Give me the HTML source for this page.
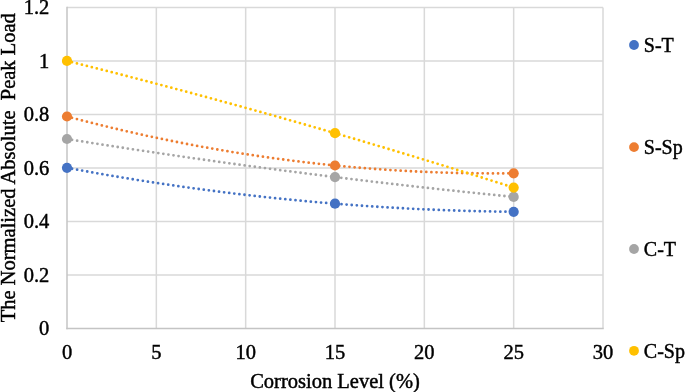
<!DOCTYPE html><html><head><meta charset="utf-8"><style>html,body{margin:0;padding:0;background:#fff;overflow:hidden;}svg{display:block;will-change:transform;}text{font-family:"Liberation Serif",serif;fill:#000;stroke:#000;stroke-width:0.45px;}</style></head><body>
<svg width="685" height="392" viewBox="0 0 685 392">
<rect width="685" height="392" fill="#fff"/>
<line x1="67.0" y1="274.91" x2="603.0" y2="274.91" stroke="#d9d9d9" stroke-width="1.5"/>
<line x1="67.0" y1="221.42" x2="603.0" y2="221.42" stroke="#d9d9d9" stroke-width="1.5"/>
<line x1="67.0" y1="167.92" x2="603.0" y2="167.92" stroke="#d9d9d9" stroke-width="1.5"/>
<line x1="67.0" y1="114.43" x2="603.0" y2="114.43" stroke="#d9d9d9" stroke-width="1.5"/>
<line x1="67.0" y1="60.94" x2="603.0" y2="60.94" stroke="#d9d9d9" stroke-width="1.5"/>
<line x1="67.0" y1="7.45" x2="603.0" y2="7.45" stroke="#d9d9d9" stroke-width="1.5"/>
<line x1="156.33" y1="7.45" x2="156.33" y2="328.4" stroke="#d9d9d9" stroke-width="1.5"/>
<line x1="245.67" y1="7.45" x2="245.67" y2="328.4" stroke="#d9d9d9" stroke-width="1.5"/>
<line x1="335.00" y1="7.45" x2="335.00" y2="328.4" stroke="#d9d9d9" stroke-width="1.5"/>
<line x1="424.33" y1="7.45" x2="424.33" y2="328.4" stroke="#d9d9d9" stroke-width="1.5"/>
<line x1="513.67" y1="7.45" x2="513.67" y2="328.4" stroke="#d9d9d9" stroke-width="1.5"/>
<line x1="603.00" y1="7.45" x2="603.00" y2="328.4" stroke="#d9d9d9" stroke-width="1.5"/>
<line x1="67.0" y1="6.7" x2="67.0" y2="329.15" stroke="#c4c4c4" stroke-width="1.5"/>
<line x1="66.25" y1="328.4" x2="603.75" y2="328.4" stroke="#c4c4c4" stroke-width="1.5"/>
<path d="M67.000 167.800 Q290.333 209.592 513.667 211.800" fill="none" stroke="#4472C4" stroke-width="2.8" stroke-linecap="round" stroke-dasharray="0 5.13"/>
<path d="M67.000 116.500 Q290.333 175.983 513.667 173.300" fill="none" stroke="#ED7D31" stroke-width="2.8" stroke-linecap="round" stroke-dasharray="0 5.13"/>
<path d="M67.000 139.000 Q290.333 174.950 513.667 196.900" fill="none" stroke="#A5A5A5" stroke-width="2.8" stroke-linecap="round" stroke-dasharray="0 5.13"/>
<path d="M67.000 60.900 Q290.333 116.500 513.667 187.600" fill="none" stroke="#FFC000" stroke-width="2.8" stroke-linecap="round" stroke-dasharray="0 5.13"/>
<circle cx="67.00" cy="167.80" r="5.1" fill="#4472C4"/>
<circle cx="335.00" cy="203.70" r="5.1" fill="#4472C4"/>
<circle cx="513.67" cy="211.80" r="5.1" fill="#4472C4"/>
<circle cx="67.00" cy="116.50" r="5.1" fill="#ED7D31"/>
<circle cx="335.00" cy="165.50" r="5.1" fill="#ED7D31"/>
<circle cx="513.67" cy="173.30" r="5.1" fill="#ED7D31"/>
<circle cx="67.00" cy="139.00" r="5.1" fill="#A5A5A5"/>
<circle cx="335.00" cy="177.10" r="5.1" fill="#A5A5A5"/>
<circle cx="513.67" cy="196.90" r="5.1" fill="#A5A5A5"/>
<circle cx="67.00" cy="60.90" r="5.1" fill="#FFC000"/>
<circle cx="335.00" cy="133.20" r="5.1" fill="#FFC000"/>
<circle cx="513.67" cy="187.60" r="5.1" fill="#FFC000"/>
<text x="49.3" y="335.30" font-size="20.5" text-anchor="end">0</text>
<text x="49.3" y="281.81" font-size="20.5" text-anchor="end">0.2</text>
<text x="49.3" y="228.32" font-size="20.5" text-anchor="end">0.4</text>
<text x="49.3" y="174.82" font-size="20.5" text-anchor="end">0.6</text>
<text x="49.3" y="121.33" font-size="20.5" text-anchor="end">0.8</text>
<text x="49.3" y="67.84" font-size="20.5" text-anchor="end">1</text>
<text x="49.3" y="14.35" font-size="20.5" text-anchor="end">1.2</text>
<text x="67.00" y="358.6" font-size="20.5" text-anchor="middle">0</text>
<text x="156.33" y="358.6" font-size="20.5" text-anchor="middle">5</text>
<text x="245.67" y="358.6" font-size="20.5" text-anchor="middle">10</text>
<text x="335.00" y="358.6" font-size="20.5" text-anchor="middle">15</text>
<text x="424.33" y="358.6" font-size="20.5" text-anchor="middle">20</text>
<text x="513.67" y="358.6" font-size="20.5" text-anchor="middle">25</text>
<text x="603.00" y="358.6" font-size="20.5" text-anchor="middle">30</text>
<text x="335" y="387.8" font-size="20.5" text-anchor="middle">Corrosion Level (%)</text>
<text transform="translate(15.0 167.7) rotate(-90)" x="0" y="0" font-size="20.5" text-anchor="middle" xml:space="preserve">The Normalized Absolute  Peak Load</text>
<circle cx="634" cy="45" r="4.9" fill="#4472C4"/>
<text x="643.8" y="51.80" font-size="20">S-T</text>
<circle cx="634" cy="147.1" r="4.9" fill="#ED7D31"/>
<text x="643.8" y="153.90" font-size="20">S-Sp</text>
<circle cx="634" cy="249" r="4.9" fill="#A5A5A5"/>
<text x="643.8" y="255.80" font-size="20">C-T</text>
<circle cx="634" cy="350.8" r="4.9" fill="#FFC000"/>
<text x="643.8" y="357.60" font-size="20">C-Sp</text>
</svg></body></html>
